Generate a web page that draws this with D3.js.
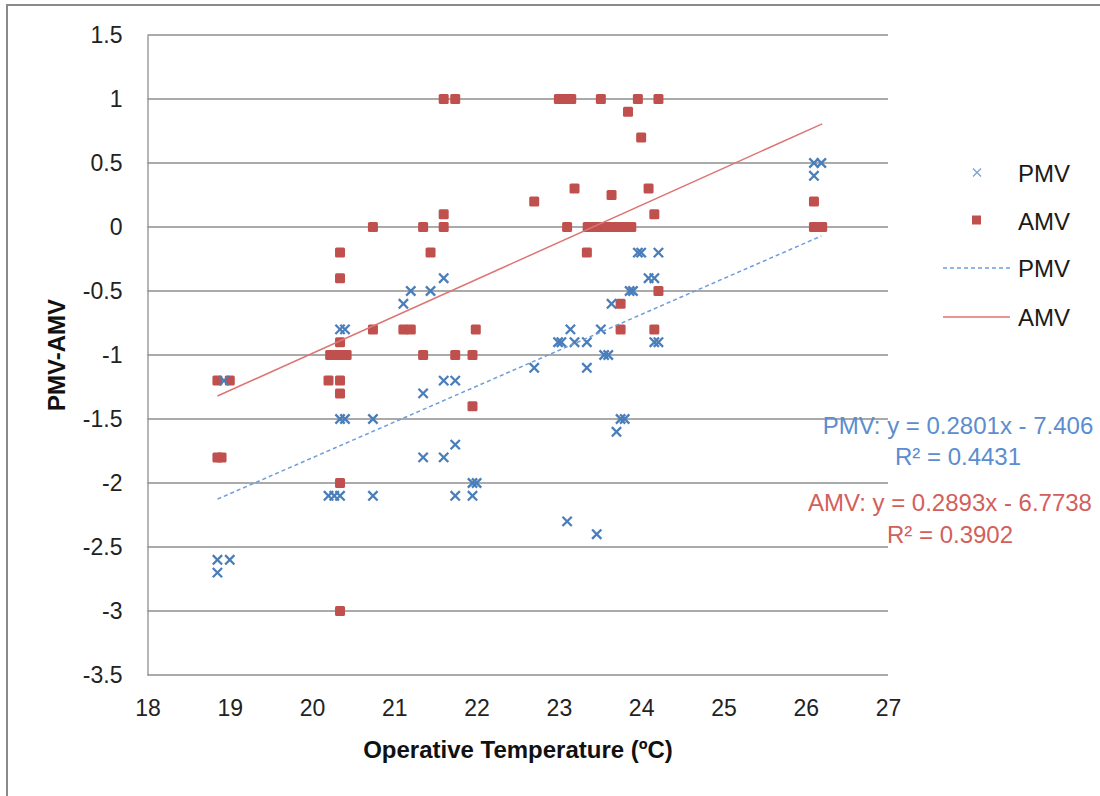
<!DOCTYPE html>
<html>
<head>
<meta charset="utf-8">
<script src="https://cdn.jsdelivr.net/npm/d3@7"></script>
<style>
  html, body { margin: 0; padding: 0; background: #fff; }
  svg { display: block; font-family: "Liberation Sans", Arial, sans-serif; }
</style>
</head>
<body>
<svg id="chart" width="1100" height="796"></svg>
<script>
// ---------- data ----------
const pmvX = [18.85, 19.0, 18.85, 18.93,
  20.2, 20.27, 20.34, 20.74,
  20.34, 20.4, 20.74,
  20.34, 20.4,
  21.11, 21.2, 21.44, 21.6,
  21.35, 21.6, 21.74,
  21.35, 21.6, 21.74,
  21.74, 21.95, 21.95, 22.0,
  22.7, 23.34,
  22.99, 23.03, 23.19, 23.34,
  23.14, 23.51,
  23.55, 23.6,
  23.64, 23.86, 23.9,
  23.96, 24.0, 24.21,
  24.09, 24.16,
  24.16, 24.21,
  23.75, 23.8, 23.7,
  23.1, 23.46,
  26.1, 26.19, 26.1];
const pmvY = [-2.6, -2.6, -2.7, -1.2,
  -2.1, -2.1, -2.1, -2.1,
  -1.5, -1.5, -1.5,
  -0.8, -0.8,
  -0.6, -0.5, -0.5, -0.4,
  -1.3, -1.2, -1.2,
  -1.8, -1.8, -1.7,
  -2.1, -2.1, -2.0, -2.0,
  -1.1, -1.1,
  -0.9, -0.9, -0.9, -0.9,
  -0.8, -0.8,
  -1.0, -1.0,
  -0.6, -0.5, -0.5,
  -0.2, -0.2, -0.2,
  -0.4, -0.4,
  -0.9, -0.9,
  -1.5, -1.5, -1.6,
  -2.3, -2.4,
  0.5, 0.5, 0.4];

const amvX = [18.85, 19.0, 18.85, 18.9,
  20.2, 20.34, 20.34, 20.34, 20.34,
  20.22, 20.3, 20.36, 20.42,
  20.34, 20.34, 20.34,
  20.74, 20.74,
  21.11, 21.2, 21.35, 21.35, 21.44,
  21.6, 21.6, 21.6, 21.74, 21.74,
  21.95, 21.99, 21.95,
  22.7, 23.0, 23.07, 23.15, 23.51, 23.96, 24.21, 23.84, 24.0,
  23.1, 23.19, 24.09, 23.64, 24.16,
  23.35, 23.43, 23.5, 23.58, 23.66, 23.74, 23.82, 23.88,
  23.34, 24.21, 23.75, 23.75, 24.16,
  26.1, 26.1, 26.2];
const amvY = [-1.2, -1.2, -1.8, -1.8,
  -1.2, -1.2, -1.3, -2.0, -3.0,
  -1.0, -1.0, -1.0, -1.0,
  -0.9, -0.4, -0.2,
  0, -0.8,
  -0.8, -0.8, -1.0, 0, -0.2,
  0, 0.1, 1, 1, -1.0,
  -1.0, -0.8, -1.4,
  0.2, 1, 1, 1, 1, 1, 1, 0.9, 0.7,
  0, 0.3, 0.3, 0.25, 0.1,
  0, 0, 0, 0, 0, 0, 0, 0,
  -0.2, -0.5, -0.6, -0.8, -0.8,
  0.2, 0, 0];

// linear trend lines: [slope, intercept]
const pmvFit = [0.2801, -7.406];
const amvFit = [0.2893, -6.7738];

const xTicks = [18, 19, 20, 21, 22, 23, 24, 25, 26, 27];
const yTicks = [-3.5, -3, -2.5, -2, -1.5, -1, -0.5, 0, 0.5, 1, 1.5];

const legendLabels = ["PMV", "AMV", "PMV", "AMV"];
const eqLabels = [["PMV: y = 0.2801x - 7.406", "R² = 0.4431"],
                  ["AMV: y = 0.2893x - 6.7738", "R² = 0.3902"]];

// ---------- layout ----------
const svg = d3.select("#chart");
const plot = { left: 147.5, right: 888, top: 35, bottom: 675 };
const x = d3.scaleLinear().domain([18, 27]).range([plot.left, plot.right]);
const y = d3.scaleLinear().domain([-3.5, 1.5]).range([plot.bottom, plot.top]);

const BLUE = "#4a7ebb", RED = "#c0504d";
const GRID = "#8e8e8e";

// outer chart border
svg.append("rect").attr("x", 7).attr("y", 5).attr("width", 1200).attr("height", 900)
  .attr("fill", "none").attr("stroke", "#8a8a8a").attr("stroke-width", 2);

// gridlines
svg.append("g").selectAll("line").data(yTicks).join("line")
  .attr("x1", plot.left).attr("x2", plot.right)
  .attr("y1", d => y(d)).attr("y2", d => y(d))
  .attr("stroke", GRID).attr("stroke-width", 1.3);

// y axis
const yAxis = svg.append("g").attr("transform", `translate(${plot.left},0)`)
  .call(d3.axisLeft(y).tickValues(yTicks).tickSize(0).tickPadding(25)
    .tickFormat(d => String(d)));
yAxis.select(".domain").attr("stroke", GRID).attr("stroke-width", 1.3);
yAxis.selectAll("text").attr("font-size", 23).attr("fill", "#222")
  .attr("font-family", "'Liberation Sans', Arial, sans-serif");

// x axis
const xAxis = svg.append("g").attr("transform", `translate(0,${plot.bottom})`)
  .call(d3.axisBottom(x).tickValues(xTicks).tickSize(0).tickPadding(25)
    .tickFormat(d => String(d)));
xAxis.select(".domain").remove();
xAxis.selectAll("text").attr("font-size", 23).attr("fill", "#222")
  .attr("font-family", "'Liberation Sans', Arial, sans-serif");

// axis titles
svg.append("text").attr("x", 518).attr("y", 758).attr("text-anchor", "middle")
  .attr("font-size", 24).attr("font-weight", "bold").attr("fill", "#111")
  .text("Operative Temperature (ºC)");
svg.append("text").attr("transform", "translate(65,355) rotate(-90)")
  .attr("text-anchor", "middle")
  .attr("font-size", 24).attr("font-weight", "bold").attr("fill", "#111")
  .text("PMV-AMV");

// data
const pmv = pmvX.map((v, i) => ({ x: v, y: pmvY[i] }));
const amv = amvX.map((v, i) => ({ x: v, y: amvY[i] }));

// AMV squares
const sq = 10;
svg.append("g").selectAll("rect").data(amv).join("rect")
  .attr("x", d => x(d.x) - sq / 2).attr("y", d => y(d.y) - sq / 2)
  .attr("width", sq).attr("height", sq).attr("rx", 1.5)
  .attr("fill", RED);

// PMV crosses
const timesSym = d3.symbol().type(d3.symbolTimes).size(58);
svg.append("g").selectAll("path").data(pmv).join("path")
  .attr("d", timesSym)
  .attr("transform", d => `translate(${x(d.x)},${y(d.y)})`)
  .attr("fill", "none").attr("stroke", BLUE).attr("stroke-width", 2.3);

// trend lines
function trend(data, fit) {
  const ext = d3.extent(data, d => d.x);
  return ext.map(v => ({ x: v, y: fit[0] * v + fit[1] }));
}
const lineGen = d3.line().x(d => x(d.x)).y(d => y(d.y));
svg.append("path").datum(trend(pmv, pmvFit)).attr("d", lineGen)
  .attr("fill", "none").attr("stroke", "#6d9ddb").attr("stroke-width", 1.5)
  .attr("stroke-dasharray", "4,3");
svg.append("path").datum(trend(amv, amvFit)).attr("d", lineGen)
  .attr("fill", "none").attr("stroke", "#dc7573").attr("stroke-width", 1.5);

// legend
const lg = svg.append("g");
const rowsY = [181.5, 229.5, 277, 326];
lg.selectAll("text").data(legendLabels).join("text")
  .attr("x", 1018).attr("y", (d, i) => rowsY[i])
  .attr("font-size", 24).attr("fill", "#1a1a1a").text(d => d);
lg.append("path").attr("d", d3.symbol().type(d3.symbolTimes).size(44)())
  .attr("transform", "translate(977,172.5)")
  .attr("fill", "none").attr("stroke", "#7aa3d8").attr("stroke-width", 1.3);
lg.append("rect").attr("x", 972).attr("y", 215.5).attr("width", 9).attr("height", 9)
  .attr("fill", RED);
lg.append("line").attr("x1", 943).attr("x2", 1010).attr("y1", 268).attr("y2", 268)
  .attr("stroke", "#6d9ddb").attr("stroke-width", 1.5).attr("stroke-dasharray", "4,3");
lg.append("line").attr("x1", 943).attr("x2", 1010).attr("y1", 317).attr("y2", 317)
  .attr("stroke", "#dc7573").attr("stroke-width", 1.5);

// equation labels
const eqColors = ["#5b8dcf", "#d25f5c"];
const eqX = [958, 950];
const eqY = [[433.5, 465], [511, 542.5]];
eqLabels.forEach((lines, k) => {
  lines.forEach((t, j) => {
    svg.append("text").attr("x", eqX[k]).attr("y", eqY[k][j])
      .attr("text-anchor", "middle").attr("font-size", 24)
      .attr("fill", eqColors[k]).text(t);
  });
});
</script>
</body>
</html>
